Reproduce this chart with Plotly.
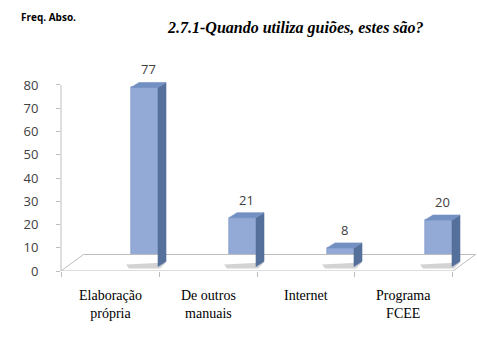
import plotly.graph_objects as go

# ---- data ----
categories = ["Elaboração<br>própria", "De outros<br>manuais", "Internet", "Programa<br>FCEE"]
values = [77, 21, 8, 20]
y_ticks = [0, 10, 20, 30, 40, 50, 60, 70, 80]
title_text = "2.7.1-Quando utiliza guiões, estes são?"
y_title = "Freq. Abso."

# ---- layout geometry (pixels) ----
W, H = 477, 361
L, R, T, B = 61, 0, 60, 90
x_range = [-0.5, 3.745]
y_range = [0, 90.75]
px_x = (W - L - R) / (x_range[1] - x_range[0])
px_y = (H - T - B) / (y_range[1] - y_range[0])


def paper_x(px):
    return (px - L) / (W - L - R)


def paper_y(py):
    return (H - B - py) / (H - T - B)


bar_off = 21 / px_x
bar_w = 27 / px_x
base = 4.5 / px_y
dx = 8 / px_x
dy = 5 / px_y
floor_dx = 22.5 / px_x
floor_dy = 16.5 / px_y

xs = list(range(len(values)))

fig = go.Figure()

# floor
fx0, fx1 = -0.5, len(values) - 0.5
fig.add_trace(go.Scatter(
    x=[fx0, fx1, fx1 + floor_dx, fx0 + floor_dx, fx0],
    y=[0, 0, floor_dy, floor_dy, 0],
    mode="lines", fill="toself", fillcolor="white",
    line=dict(color="#bcbcbc", width=1), hoverinfo="skip", showlegend=False))

# soft shadows at bar feet
sx, sy = [], []
for i, v in zip(xs, values):
    xl = i + bar_off
    xr = xl + bar_w
    sx += [xl - 5 / px_x, xr + dx, xr + 2 / px_x, xl - 2 / px_x, xl - 5 / px_x, None]
    sy += [base + 2 / px_y, base + 4 / px_y, base - 2 / px_y, base - 2 / px_y, base + 2 / px_y, None]
fig.add_trace(go.Scatter(x=sx, y=sy, mode="lines", fill="toself",
                         fillcolor="rgba(110,110,110,0.30)", line=dict(width=0),
                         hoverinfo="skip", showlegend=False))

# front faces
fig.add_trace(go.Bar(
    x=xs, y=values, base=base, offset=bar_off, width=bar_w,
    marker=dict(color="#93aad6", line=dict(color="#7d95c3", width=0.6)),
    hoverinfo="skip", showlegend=False))

# side and top faces
side_x, side_y, top_x, top_y = [], [], [], []
for i, v in zip(xs, values):
    xl = i + bar_off
    xr = xl + bar_w
    side_x += [xr, xr + dx, xr + dx, xr, xr, None]
    side_y += [base, base + dy, base + v + dy, base + v, base, None]
    top_x += [xl, xr, xr + dx, xl + dx, xl, None]
    top_y += [base + v, base + v, base + v + dy, base + v + dy, base + v, None]
fig.add_trace(go.Scatter(x=side_x, y=side_y, mode="lines", fill="toself",
                         fillcolor="#56709c", line=dict(color="#56709c", width=0.6),
                         hoverinfo="skip", showlegend=False))
fig.add_trace(go.Scatter(x=top_x, y=top_y, mode="lines", fill="toself",
                         fillcolor="#7390c2", line=dict(color="#7390c2", width=0.6),
                         hoverinfo="skip", showlegend=False))

# value labels
for i, v in zip(xs, values):
    fig.add_annotation(x=i + bar_off + (bar_w + dx) / 2, y=base + v + dy,
                       text=str(v), showarrow=False, yanchor="bottom", yshift=2,
                       font=dict(family="Open Sans", size=13, color="#404040"))

# category labels
for i, c in zip(xs, categories):
    fig.add_annotation(x=i, y=0, yref="paper", text=c, showarrow=False,
                       yanchor="top", yshift=-15,
                       font=dict(family="Liberation Serif", size=14, color="#000000"))

# y axis line
fig.add_shape(type="line", xref="paper", x0=0, x1=0, yref="y", y0=0, y1=max(y_ticks),
              line=dict(color="#bcbcbc", width=1))

# titles
fig.add_annotation(x=paper_x(295), y=paper_y(28), xref="paper", yref="paper",
                   xanchor="center", yanchor="middle", showarrow=False,
                   text=title_text,
                   font=dict(family="Liberation Serif", size=16, color="#000000",
                             weight="bold", style="italic"))

fig.add_annotation(x=paper_x(19), y=paper_y(17), xref="paper", yref="paper",
                   xanchor="left", yanchor="middle", showarrow=False,
                   text=y_title,
                   font=dict(family="Open Sans", size=10, color="#000000", weight="bold"))

fig.update_layout(
    width=W, height=H,
    margin=dict(l=L, r=R, t=T, b=B, pad=0),
    paper_bgcolor="white", plot_bgcolor="white",
    bargap=0,
    xaxis=dict(range=x_range, showgrid=False, zeroline=False, showline=False,
               tickmode="array", tickvals=[-0.5, 0.5, 1.5, 2.5, 3.5],
               showticklabels=False, ticks="outside", ticklen=5,
               tickcolor="#bcbcbc", fixedrange=True),
    yaxis=dict(range=y_range, showgrid=False, zeroline=False, showline=False,
               tickmode="array", tickvals=y_ticks, ticks="outside", ticklen=4,
               tickcolor="#bcbcbc", ticklabelstandoff=15,
               tickfont=dict(family="Open Sans", size=13, color="#404040"),
               fixedrange=True),
)

fig.write_html("out.html")
